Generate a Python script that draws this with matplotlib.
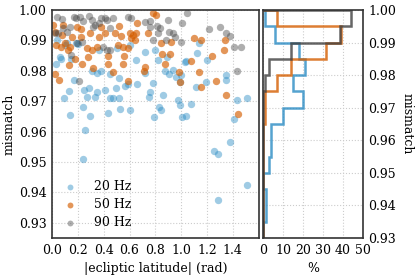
import numpy as np
import matplotlib
matplotlib.use("Agg")
import matplotlib.pyplot as plt

plt.rcParams['font.family'] = 'DejaVu Serif'
plt.rcParams['font.size'] = 9

# scatter data: |ecliptic latitude| (rad), mismatch
x20 = [0.028, 0.062, 0.070, 0.040, 0.113, 0.185, 0.170, 0.129, 0.095, 0.139,
       0.237, 0.250, 0.257, 0.293, 0.273, 0.285, 0.332, 0.345, 0.311, 0.345,
       0.378, 0.414, 0.430, 0.450, 0.448, 0.473, 0.517, 0.525, 0.517, 0.494,
       0.569, 0.589, 0.654, 0.661, 0.723, 0.752, 0.757, 0.782, 0.787, 0.821,
       0.829, 0.847, 0.860, 0.873, 0.893, 0.903, 0.937, 0.963, 0.988, 0.975,
       0.988, 1.009, 1.035, 1.000, 1.030, 1.040, 1.078, 1.117, 1.189, 1.202,
       1.344, 1.344, 1.408, 1.431, 1.509, 0.242, 1.254, 1.284, 1.380, 1.506,
       1.284, 0.600, 0.100, 0.200, 0.360, 0.500, 0.600, 0.720, 0.800, 1.120,
       1.140, 0.150]
y20 = [0.9821, 0.9845, 0.9840, 0.9903, 0.9890, 0.9890, 0.9770, 0.9734, 0.9710, 0.9654,
       0.9680, 0.9736, 0.9604, 0.9652, 0.9714, 0.9742, 0.9714, 0.9730, 0.9799, 0.9793,
       0.9799, 0.9736, 0.9660, 0.9790, 0.9710, 0.9710, 0.9710, 0.9674, 0.9775, 0.9745,
       0.9750, 0.9758, 0.9837, 0.9756, 0.9793, 0.9714, 0.9730, 0.9760, 0.9648, 0.9835,
       0.9680, 0.9670, 0.9720, 0.9799, 0.9846, 0.9791, 0.9802, 0.9780, 0.9764, 0.9703,
       0.9689, 0.9648, 0.9650, 0.9786, 0.9830, 0.9832, 0.9692, 0.9747, 0.9764, 0.9835,
       0.9786, 0.9770, 0.9643, 0.9703, 0.9709, 0.9510, 0.9536, 0.9525, 0.9566, 0.9426,
       0.9374, 0.9672, 0.9885, 0.9888, 0.9868, 0.9875, 0.9885, 0.9862, 0.9868, 0.9860,
       0.9890, 0.9840]

x50 = [0.010, 0.023, 0.031, 0.023, 0.057, 0.075, 0.069, 0.087, 0.100, 0.126,
       0.139, 0.152, 0.134, 0.178, 0.196, 0.227, 0.229, 0.224, 0.273, 0.293,
       0.306, 0.345, 0.319, 0.280, 0.365, 0.383, 0.430, 0.435, 0.409, 0.473,
       0.486, 0.512, 0.520, 0.538, 0.556, 0.551, 0.551, 0.589, 0.589, 0.610,
       0.654, 0.661, 0.713, 0.723, 0.744, 0.782, 0.808, 0.847, 0.855, 0.873,
       0.924, 0.911, 0.981, 0.993, 1.073, 1.099, 1.138, 1.156, 1.151, 1.238,
       1.266, 1.331, 1.336, 1.349, 1.440, 0.600, 0.628, 0.640]
y50 = [0.9950, 0.9929, 0.9885, 0.9791, 0.9769, 0.9918, 0.9879, 0.9950, 0.9890, 0.9868,
       0.9879, 0.9912, 0.9819, 0.9840, 0.9945, 0.9936, 0.9824, 0.9912, 0.9874, 0.9925,
       0.9868, 0.9879, 0.9808, 0.9846, 0.9912, 0.9945, 0.9848, 0.9824, 0.9923, 0.9797,
       0.9923, 0.9885, 0.9947, 0.9914, 0.9848, 0.9824, 0.9879, 0.9766, 0.9874, 0.9909,
       0.9923, 0.9956, 0.9800, 0.9813, 0.9923, 0.9989, 0.9984, 0.9890, 0.9857, 0.9824,
       0.9896, 0.9857, 0.9797, 0.9764, 0.9832, 0.9907, 0.9797, 0.9903, 0.9747, 0.9848,
       0.9766, 0.9870, 0.9901, 0.9722, 0.9659, 0.9926, 0.9918, 0.9901]

x90 = [0.036, 0.023, 0.075, 0.087, 0.139, 0.170, 0.185, 0.216, 0.242, 0.288,
       0.306, 0.332, 0.363, 0.383, 0.409, 0.422, 0.448, 0.473, 0.448, 0.589,
       0.615, 0.718, 0.757, 0.813, 0.821, 0.834, 0.903, 0.937, 0.950, 1.000,
       1.009, 1.048, 1.213, 1.297, 1.344, 1.375, 1.408, 1.465, 1.434, 0.208,
       0.149, 0.898, 0.885, 0.782, 0.190, 0.229, 0.398, 0.422, 0.113, 0.049,
       0.319, 0.757]
y90 = [0.9978, 0.9923, 0.9969, 0.9940, 0.9945, 0.9976, 0.9973, 0.9978, 0.9965, 0.9980,
       0.9967, 0.9950, 0.9956, 0.9973, 0.9973, 0.9967, 0.9940, 0.9973, 0.9868, 0.9978,
       0.9973, 0.9962, 0.9965, 0.9947, 0.9923, 0.9940, 0.9929, 0.9923, 0.9912, 0.9896,
       0.9956, 0.9991, 0.9936, 0.9943, 0.9923, 0.9914, 0.9879, 0.9879, 0.9800, 0.9766,
       0.9852, 0.9967, 0.9901, 0.9901, 0.9892, 0.9896, 0.9879, 0.9868, 0.9929, 0.9923,
       0.9945, 0.9945]

# histogram (% per bin), bins from 0.93 to 1.00 in steps of 0.005
bin_edges = np.round(np.arange(0.93, 1.0001, 0.005), 3)
h20 = [0, 1.3, 1.3, 0, 3, 4, 4, 10, 20, 15, 21, 18, 6, 1]
h50 = [0, 0, 0, 0, 0, 0, 0, 1, 1, 7, 14, 31.5, 39, 7]
h90 = [0, 0, 0, 0, 0, 0, 0, 0, 0, 1, 3, 14, 38.5, 44]

c20 = '#2b8cc4'
c50 = '#d55e00'
c90 = '#404040'

fig = plt.figure(figsize=(4.15, 2.78), dpi=100)
ax = fig.add_axes([0.1253, 0.1439, 0.498, 0.820])
axh = fig.add_axes([0.6337, 0.1439, 0.241, 0.820])

ax.scatter(x20, y20, s=28, color=c20, alpha=0.45, lw=0, label='20 Hz')
ax.scatter(x50, y50, s=28, color=c50, alpha=0.65, lw=0, label='50 Hz')
ax.scatter(x90, y90, s=28, color=c90, alpha=0.42, lw=0, label='90 Hz')
ax.set_xlim(0, 1.6)
ax.set_ylim(0.925, 1.0)
ax.set_xticks(np.arange(0, 1.41, 0.2))
ax.set_yticks(np.arange(0.93, 1.001, 0.01))
ax.set_xlabel('|ecliptic latitude| (rad)')
ax.set_ylabel('mismatch', labelpad=2)
ax.legend(loc='lower left', frameon=False, fontsize=9, scatterpoints=1,
          markerscale=0.8, handlelength=1.5, handletextpad=1.2,
          borderaxespad=0.3, labelspacing=0.4)

for c, h in [(c20, h20), (c50, h50), (c90, h90)]:
    axh.stairs(h, bin_edges, orientation='horizontal', color=c, lw=1.8, alpha=0.8)
axh.set_xlim(0, 50)
axh.set_ylim(0.93, 1.0)
axh.set_xticks(np.arange(0, 51, 10))
axh.set_yticks(np.arange(0.93, 1.001, 0.01))
axh.yaxis.tick_right()
axh.yaxis.set_label_position('right')
axh.set_ylabel('mismatch', rotation=270, labelpad=12)
axh.set_xlabel('%')

for a in (ax, axh):
    a.grid(True, ls=':', color='#cccccc', lw=0.8)
    a.set_axisbelow(True)
    a.tick_params(length=0, pad=4)
    a.yaxis.set_major_formatter(matplotlib.ticker.FormatStrFormatter('%.2f'))
    for s in a.spines.values():
        s.set_color('#333333')
        s.set_linewidth(1.2)
axh.xaxis.set_major_formatter(matplotlib.ticker.FormatStrFormatter('%d'))
ax.xaxis.set_major_formatter(matplotlib.ticker.FormatStrFormatter('%.1f'))

fig.savefig('out.png', dpi=100)
